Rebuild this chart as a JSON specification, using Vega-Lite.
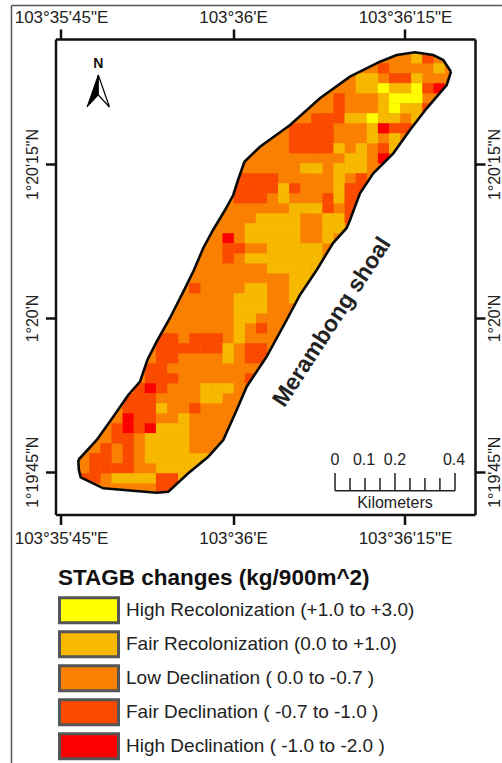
{
"$schema":"https://vega.github.io/schema/vega-lite/v6.json",
"width":419.5,"height":475.5,
"autosize":{"type":"none"},
"padding":{"left":55.5,"top":39,"right":27,"bottom":248.5},
"background":"#ffffff",
"config":{"view":{"stroke":null},"font":"Liberation Sans"},
"datasets":{
"upper":[{"x":-0.5,"y":40.17},{"x":1.16,"y":38.17},{"x":2.65,"y":35.84},{"x":4.0,"y":33.67},{"x":5.06,"y":32.34},{"x":5.72,"y":30.17},{"x":6.56,"y":28.34},{"x":7.76,"y":25.97},{"x":9.11,"y":23.0},{"x":9.92,"y":21.17},{"x":10.76,"y":18.97},{"x":11.64,"y":17.17},{"x":12.72,"y":15.17},{"x":13.46,"y":13.67},{"x":13.89,"y":12.17},{"x":14.47,"y":10.34},{"x":15.87,"y":8.84},{"x":18.58,"y":6.67},{"x":21.27,"y":4.0},{"x":23.97,"y":1.84},{"x":26.68,"y":0.34},{"x":28.18,"y":-0.33},{"x":29.83,"y":-0.6},{"x":31.48,"y":-0.33},{"x":32.38,"y":0.17},{"x":33.08,"y":1.34}],
"lower":[{"x":-0.5,"y":40.17},{"x":-0.45,"y":41.17},{"x":-0.28,"y":41.9},{"x":1.75,"y":43.0},{"x":6.56,"y":43.44},{"x":7.61,"y":43.34},{"x":9.41,"y":41.5},{"x":11.21,"y":39.84},{"x":12.56,"y":38.17},{"x":13.77,"y":35.17},{"x":14.67,"y":32.84},{"x":16.47,"y":29.84},{"x":18.27,"y":26.17},{"x":19.47,"y":23.67},{"x":20.98,"y":21.17},{"x":22.45,"y":18.47},{"x":23.68,"y":16.97},{"x":23.98,"y":16.17},{"x":24.88,"y":13.5},{"x":26.08,"y":11.5},{"x":27.88,"y":9.5},{"x":29.38,"y":7.17},{"x":30.89,"y":5.0},{"x":32.69,"y":2.67},{"x":33.08,"y":1.34}],
"cells":[
{"x":30,"y":0,"k":"FR"},{"x":31,"y":0,"k":"FD"},
{"x":27,"y":1,"k":"FD"},{"x":32,"y":1,"k":"FR"},
{"x":25,"y":2,"k":"FR"},{"x":26,"y":2,"k":"FR"},{"x":28,"y":2,"k":"FD"},{"x":29,"y":2,"k":"FD"},{"x":30,"y":2,"k":"FR"},
{"x":25,"y":3,"k":"FR"},{"x":26,"y":3,"k":"FR"},{"x":27,"y":3,"k":"HR"},{"x":28,"y":3,"k":"FR"},{"x":29,"y":3,"k":"FR"},{"x":30,"y":3,"k":"HR"},{"x":31,"y":3,"k":"FD"},{"x":32,"y":3,"k":"HD"},
{"x":23,"y":4,"k":"FD"},{"x":27,"y":4,"k":"FR"},{"x":28,"y":4,"k":"HR"},{"x":29,"y":4,"k":"HR"},{"x":30,"y":4,"k":"HR"},
{"x":23,"y":5,"k":"FD"},{"x":27,"y":5,"k":"FR"},{"x":28,"y":5,"k":"HR"},{"x":29,"y":5,"k":"FR"},{"x":30,"y":5,"k":"FR"},{"x":31,"y":5,"k":"FD"},
{"x":21,"y":6,"k":"FD"},{"x":22,"y":6,"k":"FD"},{"x":23,"y":6,"k":"FD"},{"x":24,"y":6,"k":"FR"},{"x":25,"y":6,"k":"FR"},{"x":26,"y":6,"k":"HR"},{"x":27,"y":6,"k":"FR"},{"x":28,"y":6,"k":"FR"},{"x":30,"y":6,"k":"FR"},
{"x":19,"y":7,"k":"FD"},{"x":20,"y":7,"k":"FD"},{"x":21,"y":7,"k":"FD"},{"x":22,"y":7,"k":"FD"},{"x":26,"y":7,"k":"FR"},{"x":27,"y":7,"k":"HD"},{"x":28,"y":7,"k":"FD"},{"x":29,"y":7,"k":"FD"},
{"x":19,"y":8,"k":"FD"},{"x":20,"y":8,"k":"FD"},{"x":21,"y":8,"k":"FD"},{"x":22,"y":8,"k":"FD"},{"x":26,"y":8,"k":"FR"},{"x":28,"y":8,"k":"FR"},
{"x":19,"y":9,"k":"FD"},{"x":20,"y":9,"k":"FD"},{"x":21,"y":9,"k":"FD"},{"x":22,"y":9,"k":"FD"},{"x":23,"y":9,"k":"FR"},{"x":25,"y":9,"k":"FR"},{"x":27,"y":9,"k":"FD"},{"x":28,"y":9,"k":"FR"},
{"x":24,"y":10,"k":"FR"},{"x":25,"y":10,"k":"FR"},{"x":27,"y":10,"k":"HD"},
{"x":20,"y":11,"k":"FR"},{"x":21,"y":11,"k":"FR"},{"x":23,"y":11,"k":"FR"},{"x":24,"y":11,"k":"FR"},{"x":25,"y":11,"k":"FR"},
{"x":14,"y":12,"k":"FD"},{"x":15,"y":12,"k":"FD"},{"x":16,"y":12,"k":"FD"},{"x":17,"y":12,"k":"FD"},{"x":23,"y":12,"k":"FR"},{"x":25,"y":12,"k":"FD"},
{"x":14,"y":13,"k":"FD"},{"x":15,"y":13,"k":"FD"},{"x":16,"y":13,"k":"FD"},{"x":17,"y":13,"k":"FD"},{"x":18,"y":13,"k":"FR"},{"x":19,"y":13,"k":"FD"},{"x":23,"y":13,"k":"FR"},{"x":24,"y":13,"k":"FD"},{"x":25,"y":13,"k":"FD"},
{"x":14,"y":14,"k":"FD"},{"x":15,"y":14,"k":"FD"},{"x":16,"y":14,"k":"FD"},{"x":18,"y":14,"k":"FR"},{"x":22,"y":14,"k":"FD"},{"x":23,"y":14,"k":"FR"},{"x":24,"y":14,"k":"FD"},{"x":25,"y":14,"k":"FD"},
{"x":19,"y":15,"k":"FR"},{"x":20,"y":15,"k":"FR"},{"x":21,"y":15,"k":"FR"},{"x":22,"y":15,"k":"FD"},{"x":24,"y":15,"k":"FD"},
{"x":16,"y":16,"k":"FR"},{"x":17,"y":16,"k":"FR"},{"x":18,"y":16,"k":"FR"},{"x":19,"y":16,"k":"FR"},{"x":22,"y":16,"k":"FR"},{"x":23,"y":16,"k":"FR"},{"x":24,"y":16,"k":"FD"},
{"x":15,"y":17,"k":"FR"},{"x":16,"y":17,"k":"FR"},{"x":17,"y":17,"k":"FR"},{"x":18,"y":17,"k":"FR"},{"x":19,"y":17,"k":"FR"},{"x":22,"y":17,"k":"FR"},{"x":23,"y":17,"k":"FR"},
{"x":13,"y":18,"k":"HD"},{"x":15,"y":18,"k":"FR"},{"x":16,"y":18,"k":"FR"},{"x":17,"y":18,"k":"FR"},{"x":18,"y":18,"k":"FR"},{"x":19,"y":18,"k":"FR"},{"x":22,"y":18,"k":"FR"},
{"x":13,"y":19,"k":"FD"},{"x":14,"y":19,"k":"FD"},{"x":17,"y":19,"k":"FR"},{"x":18,"y":19,"k":"FR"},{"x":19,"y":19,"k":"FR"},{"x":20,"y":19,"k":"FR"},{"x":21,"y":19,"k":"FR"},
{"x":13,"y":20,"k":"FD"},{"x":15,"y":20,"k":"FR"},{"x":16,"y":20,"k":"FR"},{"x":17,"y":20,"k":"FR"},{"x":18,"y":20,"k":"FR"},{"x":19,"y":20,"k":"FR"},{"x":20,"y":20,"k":"FR"},{"x":21,"y":20,"k":"FR"},
{"x":17,"y":21,"k":"FR"},{"x":18,"y":21,"k":"FR"},{"x":19,"y":21,"k":"FR"},{"x":20,"y":21,"k":"FR"},{"x":21,"y":21,"k":"FR"},
{"x":19,"y":22,"k":"FR"},{"x":20,"y":22,"k":"FR"},
{"x":10,"y":23,"k":"FD"},{"x":15,"y":23,"k":"FR"},{"x":16,"y":23,"k":"FR"},{"x":19,"y":23,"k":"FR"},{"x":20,"y":23,"k":"FR"},
{"x":14,"y":24,"k":"FR"},{"x":15,"y":24,"k":"FR"},{"x":16,"y":24,"k":"FR"},{"x":19,"y":24,"k":"FR"},
{"x":14,"y":25,"k":"FR"},{"x":15,"y":25,"k":"FR"},{"x":16,"y":25,"k":"FR"},
{"x":14,"y":26,"k":"FR"},{"x":15,"y":26,"k":"FR"},
{"x":14,"y":27,"k":"FR"},{"x":16,"y":27,"k":"FD"},
{"x":7,"y":28,"k":"FD"},{"x":8,"y":28,"k":"FD"},{"x":10,"y":28,"k":"FD"},{"x":11,"y":28,"k":"FD"},{"x":12,"y":28,"k":"FD"},{"x":14,"y":28,"k":"FR"},
{"x":7,"y":29,"k":"FD"},{"x":8,"y":29,"k":"FD"},{"x":9,"y":29,"k":"FD"},{"x":10,"y":29,"k":"FD"},{"x":11,"y":29,"k":"FD"},{"x":12,"y":29,"k":"FD"},{"x":13,"y":29,"k":"FR"},{"x":15,"y":29,"k":"FD"},{"x":16,"y":29,"k":"FD"},
{"x":7,"y":30,"k":"FD"},{"x":8,"y":30,"k":"FD"},{"x":13,"y":30,"k":"FR"},{"x":15,"y":30,"k":"FD"},{"x":16,"y":30,"k":"FD"},
{"x":6,"y":31,"k":"FD"},{"x":7,"y":31,"k":"FD"},
{"x":6,"y":32,"k":"FD"},{"x":7,"y":32,"k":"FD"},{"x":8,"y":32,"k":"FD"},{"x":15,"y":32,"k":"FD"},
{"x":5,"y":33,"k":"FD"},{"x":6,"y":33,"k":"HD"},{"x":7,"y":33,"k":"FD"},{"x":11,"y":33,"k":"FR"},{"x":12,"y":33,"k":"FR"},{"x":13,"y":33,"k":"FR"},
{"x":4,"y":34,"k":"FD"},{"x":5,"y":34,"k":"FD"},{"x":6,"y":34,"k":"FD"},{"x":11,"y":34,"k":"FR"},{"x":12,"y":34,"k":"FR"},
{"x":4,"y":35,"k":"FD"},{"x":5,"y":35,"k":"FD"},{"x":6,"y":35,"k":"FD"},{"x":7,"y":35,"k":"FR"},{"x":10,"y":35,"k":"FD"},
{"x":4,"y":36,"k":"HD"},{"x":5,"y":36,"k":"FD"},{"x":6,"y":36,"k":"FD"},{"x":9,"y":36,"k":"FR"},
{"x":3,"y":37,"k":"FD"},{"x":4,"y":37,"k":"HD"},{"x":5,"y":37,"k":"FD"},{"x":6,"y":37,"k":"HD"},{"x":7,"y":37,"k":"FR"},{"x":8,"y":37,"k":"FR"},{"x":9,"y":37,"k":"FR"},
{"x":3,"y":38,"k":"FD"},{"x":4,"y":38,"k":"FD"},{"x":6,"y":38,"k":"FR"},{"x":7,"y":38,"k":"FR"},{"x":8,"y":38,"k":"FR"},{"x":9,"y":38,"k":"FR"},
{"x":2,"y":39,"k":"FD"},{"x":4,"y":39,"k":"FD"},{"x":6,"y":39,"k":"FR"},{"x":7,"y":39,"k":"FR"},{"x":8,"y":39,"k":"FR"},{"x":9,"y":39,"k":"FR"},
{"x":1,"y":40,"k":"FD"},{"x":2,"y":40,"k":"FD"},{"x":4,"y":40,"k":"FD"},{"x":6,"y":40,"k":"FR"},{"x":7,"y":40,"k":"FR"},{"x":8,"y":40,"k":"FR"},{"x":9,"y":40,"k":"FR"},{"x":10,"y":40,"k":"FR"},{"x":11,"y":40,"k":"FR"},
{"x":1,"y":41,"k":"FD"},{"x":2,"y":41,"k":"FD"},{"x":3,"y":41,"k":"FD"},{"x":4,"y":41,"k":"FD"},{"x":7,"y":41,"k":"FR"},{"x":8,"y":41,"k":"FR"},{"x":9,"y":41,"k":"FR"},{"x":10,"y":41,"k":"FR"},
{"x":0,"y":42,"k":"FD"},{"x":1,"y":42,"k":"FD"},{"x":3,"y":42,"k":"FR"},{"x":4,"y":42,"k":"FR"},{"x":5,"y":42,"k":"FR"},{"x":6,"y":42,"k":"FR"},{"x":7,"y":42,"k":"FD"},{"x":8,"y":42,"k":"FD"},{"x":9,"y":42,"k":"FR"},
{"x":7,"y":43,"k":"FD"},{"x":8,"y":43,"k":"FD"}
]
},
"encoding":{
"x":{"field":"x","type":"quantitative","title":null,"axis":null,"scale":{"domain":[-2.554,35.24],"nice":false,"zero":false}},
"y":{"field":"y","type":"quantitative","title":null,"axis":null,"scale":{"domain":[-1.93,45.62],"nice":false,"zero":false,"reverse":true}}
},
"resolve":{"axis":{"x":"independent","y":"independent"}},
"layer":[
{"data":{"name":"upper"},"mark":{"type":"area","fill":"#F98000"},
"encoding":{
"x":{"field":"x","type":"quantitative","title":null,"axis":{"orient":"bottom","values":[-2.059,13.44,28.93],"labelExpr":"datum.value<0?'103°35\\'45\"E':datum.value<20?'103°36\\'E':'103°36\\'15\"E'","labelFontSize":17,"labelColor":"#222","labelPadding":6,"tickSize":10,"tickWidth":2.5,"tickColor":"#111","domainColor":"#111","domainWidth":2.5,"grid":false,"zindex":1,"labelFlush":false,"labelOverlap":false}},
"y":{"field":"y","type":"quantitative","title":null,"axis":{"orient":"left","values":[10.57,25.97,41.34],"labelExpr":"datum.value<20?'1°20\\'15\"N':datum.value<30?'1°20\\'N':'1°19\\'45\"N'","labelAngle":270,"labelAlign":"center","labelBaseline":"bottom","labelFontSize":16,"labelColor":"#222","labelPadding":5,"tickSize":10,"tickWidth":2.5,"tickColor":"#111","domainColor":"#111","domainWidth":2.5,"grid":false,"zindex":1,"labelFlush":false,"labelOverlap":false}},
"y2":{"datum":44.5}
}},
{"data":{"name":"cells"},"mark":{"type":"rect","width":11.3,"height":10.2},
"encoding":{
"color":{"field":"k","type":"nominal","scale":{"domain":["HR","FR","LD","FD","HD"],"range":["#FFFF00","#F7B900","#F98000","#FA4A00","#FA0000"]},
"legend":{"orient":"none","legendX":2.5,"legendY":528,"title":"STAGB changes (kg/900m^2)","titleFont":"Liberation Sans","titleFontSize":22.5,"titleFontWeight":"bold","titleColor":"#111","titlePadding":4,"titleLimit":420,
"symbolType":"M-1,-1.25H4.9V1.25H-1Z","symbolSize":400,"symbolStrokeColor":"#555","symbolStrokeWidth":3,"symbolOpacity":1,"clipHeight":33.6,"rowPadding":0,
"labelFont":"Liberation Sans","labelFontSize":19,"labelColor":"#222","labelLimit":420,"labelOffset":45,
"labelExpr":"{'HR':'High Recolonization (+1.0 to +3.0)','FR':'Fair Recolonization (0.0 to +1.0)','LD':'Low Declination ( 0.0 to -0.7 )','FD':'Fair Declination ( -0.7 to -1.0 )','HD':'High Declination ( -1.0 to -2.0 )'}[datum.value]"}}
}},
{"data":{"name":"upper"},"mark":{"type":"area","fill":"#ffffff","stroke":"#ffffff","strokeWidth":1},"encoding":{"y2":{"datum":-1.8}}},
{"data":{"name":"lower"},"mark":{"type":"area","fill":"#ffffff","stroke":"#ffffff","strokeWidth":1},"encoding":{"y2":{"datum":45.5}}},
{"data":{"name":"lower"},"mark":{"type":"line","color":"#0a0a0a","strokeWidth":2.6},"encoding":{}},
{"data":{"name":"upper"},"mark":{"type":"line","color":"#0a0a0a","strokeWidth":2.6},
"encoding":{
"x":{"field":"x","type":"quantitative","title":null,"axis":{"orient":"top","values":[-2.059,13.44,28.93],"labelExpr":"datum.value<0?'103°35\\'45\"E':datum.value<20?'103°36\\'E':'103°36\\'15\"E'","labelFontSize":17,"labelColor":"#222","labelPadding":3,"tickSize":10,"tickWidth":2.5,"tickColor":"#111","domainColor":"#111","domainWidth":2.5,"grid":false,"zindex":1,"labelFlush":false,"labelOverlap":false}},
"y":{"field":"y","type":"quantitative","title":null,"axis":{"orient":"right","values":[10.57,25.97,41.34],"labelExpr":"datum.value<20?'1°20\\'15\"N':datum.value<30?'1°20\\'N':'1°19\\'45\"N'","labelAngle":270,"labelAlign":"center","labelBaseline":"top","labelFontSize":16,"labelColor":"#222","labelPadding":1,"tickSize":10,"tickWidth":2.5,"tickColor":"#111","domainColor":"#111","domainWidth":2.5,"grid":false,"zindex":1,"labelFlush":false,"labelOverlap":false}}
}},
{"data":{"values":[{"x":-6.52,"y":-5.28,"y2":70.47}]},"mark":{"type":"rule","color":"#555","strokeWidth":1.5},"encoding":{"y2":{"field":"y2"}}},
{"data":{"values":[{"x":-6.52,"x2":37.67,"y":-5.28}]},"mark":{"type":"rule","color":"#555","strokeWidth":1.5},"encoding":{"x2":{"field":"x2"}}},
{"data":{"values":[{"x":22.63,"y":41.47,"y2":43.24},{"x":23.98,"y":41.97,"y2":43.24},{"x":25.33,"y":41.97,"y2":43.24},{"x":26.68,"y":41.97,"y2":43.24},{"x":28.03,"y":41.47,"y2":43.24},{"x":29.38,"y":41.97,"y2":43.24},{"x":30.73,"y":41.97,"y2":43.24},{"x":32.08,"y":41.97,"y2":43.24},{"x":33.44,"y":41.47,"y2":43.24}]},"mark":{"type":"rule","color":"#222","strokeWidth":1.5},"encoding":{"y2":{"field":"y2"}}},
{"data":{"values":[{"x":22.63,"x2":33.44,"y":43.24}]},"mark":{"type":"rule","color":"#222","strokeWidth":1.5},"encoding":{"x2":{"field":"x2"}}},
{"data":{"values":[{"x":22.63,"y":40.17,"t":"0"},{"x":25.24,"y":40.17,"t":"0.1"},{"x":28.03,"y":40.17,"t":"0.2"},{"x":33.35,"y":40.17,"t":"0.4"},{"x":28.03,"y":44.47,"t":"Kilometers"}]},"mark":{"type":"text","fontSize":16,"color":"#222","font":"Liberation Sans"},"encoding":{"text":{"field":"t"}}},
{"data":{"values":[{"x":1.3,"y":0.6,"t":"N"}]},"mark":{"type":"text","fontSize":14,"fontWeight":"bold","color":"#111","font":"Liberation Sans"},"encoding":{"text":{"field":"t"}}},
{"data":{"values":[{"x":22.36,"y":26.37,"t":"Merambong shoal"}]},"mark":{"type":"text","fontSize":23,"fontWeight":"bold","angle":303,"color":"#222","font":"Liberation Sans"},"encoding":{"text":{"field":"t"}}},
{"data":{"values":[{"x":1.3,"y":3.27}]},"mark":{"type":"point","filled":true,"fill":"#000","stroke":"#000","strokeWidth":1,"opacity":1,"size":1024,"shape":"M0,-1L-0.7,1L0,0.25Z"},"encoding":{}},
{"data":{"values":[{"x":1.3,"y":3.27}]},"mark":{"type":"point","filled":true,"fill":"#fff","stroke":"#000","strokeWidth":1.2,"opacity":1,"size":1024,"shape":"M0,-1L0.7,1L0,0.25Z"},"encoding":{}}
]
}
